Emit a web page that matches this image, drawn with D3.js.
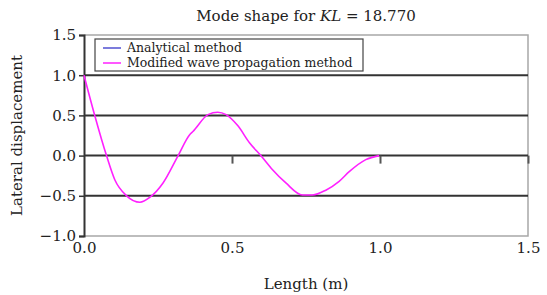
<!DOCTYPE html>
<html>
<head>
<meta charset="utf-8">
<script src="https://cdn.jsdelivr.net/npm/d3@7"></script>
<style>
  body { margin: 0; background: #fff; }
  text { font-family: "DejaVu Serif", "Liberation Serif", serif; fill: #222; }
</style>
</head>
<body>
<svg width="547" height="295"></svg>
<script>
// mode shape
var lengthM = [0, 0.037, 0.076, 0.104, 0.144, 0.189, 0.222, 0.267, 0.318, 0.357, 0.368, 0.419, 0.452, 0.48,
               0.52, 0.559, 0.6, 0.637, 0.682, 0.738, 0.772, 0.817, 0.862, 0.896, 0.952, 0.997];
var modifiedWave = [1.0, 0.49, 0.0, -0.30, -0.50, -0.58, -0.52, -0.34, 0.0, 0.26, 0.30, 0.51, 0.54, 0.51,
                    0.37, 0.16, -0.01, -0.175, -0.34, -0.49, -0.49, -0.43, -0.32, -0.20, -0.05, 0.0];
var xTicks = [0, 0.5, 1.0, 1.5];
var yTicks = [-1.0, -0.5, 0.0, 0.5, 1.0, 1.5];
var legendLabels = ["Analytical method", "Modified wave propagation method"];
var legendColors = ["#5050d0", "#ff20ff"];

var svg = d3.select("svg"),
    margin = { left: 84, right: 19, top: 35, bottom: 59 },
    width = +svg.attr("width") - margin.left - margin.right,
    height = +svg.attr("height") - margin.top - margin.bottom;

var x = d3.scaleLinear().domain([0, 1.5]).range([0, width]);
var y = d3.scaleLinear().domain([-1, 1.5]).range([height, 0]);

var g = svg.append("g").attr("transform", "translate(" + margin.left + "," + margin.top + ")");

// frame: light top / right / bottom
g.append("path")
  .attr("d", "M0,0H" + width + "V" + height + "H0")
  .attr("fill", "none").attr("stroke", "#a8a8a8").attr("stroke-width", 1.5);

// gridlines
g.selectAll(".grid").data([1.0, 0.5, 0.0, -0.5]).enter().append("line")
  .attr("x1", 0).attr("x2", width)
  .attr("y1", d => y(d)).attr("y2", d => y(d))
  .attr("stroke", "#333").attr("stroke-width", 2);

// y axis
var yAxis = g.append("g")
  .call(d3.axisLeft(y).tickValues(yTicks).tickFormat(d3.format(".1f")).tickSize(5).tickPadding(3));
yAxis.select(".domain").attr("stroke", "#333").attr("stroke-width", 2);
yAxis.selectAll(".tick line").attr("stroke", "#333").attr("stroke-width", 1.5);
yAxis.selectAll("text").style("font-size", "15px").attr("fill", "#222");

// x ticks sit on the zero line
var xTickAxis = g.append("g").attr("transform", "translate(0," + y(0) + ")")
  .call(d3.axisBottom(x).tickValues([0.5, 1.0, 1.5]).tickSize(8).tickFormat(""));
xTickAxis.select(".domain").remove();
xTickAxis.selectAll(".tick line").attr("stroke", "#555").attr("stroke-width", 2);

// x labels under the plot
var xAxis = g.append("g").attr("transform", "translate(0," + height + ")")
  .call(d3.axisBottom(x).tickValues(xTicks).tickFormat(d3.format(".1f")).tickSize(0).tickPadding(6));
xAxis.select(".domain").remove();
xAxis.selectAll("text").style("font-size", "15px").attr("fill", "#222");

// curve
var line = d3.line().x((d, i) => x(lengthM[i])).y(d => y(d)).curve(d3.curveMonotoneX);
g.append("path")
  .datum(modifiedWave)
  .attr("fill", "none")
  .attr("stroke", legendColors[1])
  .attr("stroke-width", 1.6)
  .attr("d", line);

// legend
var lg = g.append("g").attr("transform", "translate(11,4)");
lg.append("rect").attr("width", 268).attr("height", 32)
  .attr("fill", "#fff").attr("stroke", "#444").attr("stroke-width", 1.2);
var item = lg.selectAll(".item").data(legendLabels).enter().append("g")
  .attr("transform", (d, i) => "translate(0," + (9 + i * 15) + ")");
item.append("line").attr("x1", 8).attr("x2", 26)
  .attr("stroke", (d, i) => legendColors[i]).attr("stroke-width", 1.5);
item.append("text").attr("x", 32).attr("dy", "0.32em")
  .style("font-size", "12.5px").text(d => d);

// title and axis labels
var title = svg.append("text")
  .attr("x", margin.left + width / 2).attr("y", 21)
  .attr("text-anchor", "middle").style("font-size", "15px");
title.append("tspan").text("Mode shape for ");
title.append("tspan").style("font-style", "italic").text("KL");
title.append("tspan").text(" = 18.770");

svg.append("text")
  .attr("x", margin.left + width / 2).attr("y", 289)
  .attr("text-anchor", "middle").style("font-size", "15px")
  .text("Length (m)");

svg.append("text")
  .attr("transform", "translate(22," + (margin.top + height / 2) + ") rotate(-90)")
  .attr("text-anchor", "middle").style("font-size", "15px")
  .text("Lateral displacement");
</script>
</body>
</html>
